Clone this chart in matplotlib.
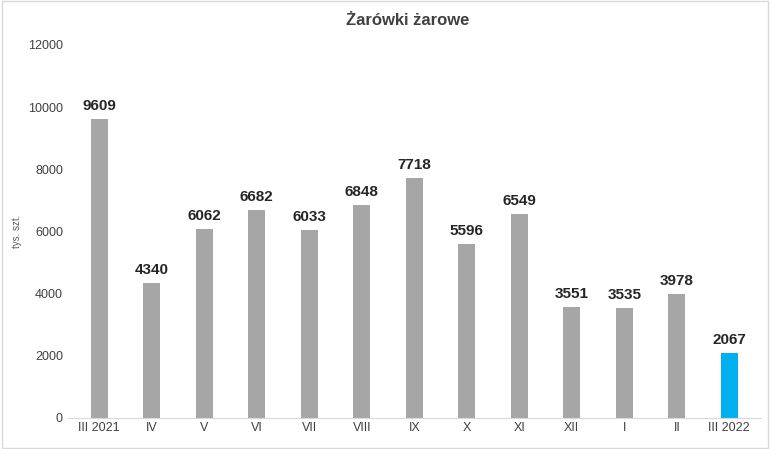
import matplotlib
matplotlib.use("Agg")
import matplotlib.pyplot as plt

categories = ["III 2021","IV","V","VI","VII","VIII","IX","X","XI","XII","I","II","III 2022"]
values = [9609,4340,6062,6682,6033,6848,7718,5596,6549,3551,3535,3978,2067]
colors = ["#a6a6a6"]*12 + ["#00b0f0"]

plt.rcParams['font.family'] = ['Liberation Sans', 'DejaVu Sans']
fig = plt.figure(figsize=(7.7,4.49), dpi=100)
ax = fig.add_axes([0.088, 0.07, 0.9, 0.83])
x = range(len(categories))
ax.bar(x, values, width=0.33, color=colors)
for i, v in zip(x, values):
    ax.text(i, v+200, str(v), ha='center', va='bottom', fontsize=11, fontweight='bold', color='#262626', fontstretch='condensed')
ax.set_xticks(list(x))
ax.set_xticklabels(categories, fontsize=9, color='#404040')
ax.set_ylim(0, 12000)
ax.set_xlim(-0.6, 12.6)
ax.set_yticks(range(0, 12001, 2000))
ax.tick_params(axis='y', labelsize=9, colors='#404040', length=0)
ax.tick_params(axis='x', length=0)
for s in ['top','right','left']:
    ax.spines[s].set_visible(False)
ax.spines['bottom'].set_color('#d9d9d9')
ax.set_ylabel('tys. szt.', fontsize=7, color='#595959')
fig.text(0.53, 0.955, 'Żarówki żarowe', ha='center', va='center', fontsize=12, fontweight='bold', color='#404040')
fig.patches.append(plt.Rectangle((0.002,0.002),0.996,0.996, transform=fig.transFigure, fill=False, edgecolor='#d9d9d9'))
fig.savefig('out.png')
